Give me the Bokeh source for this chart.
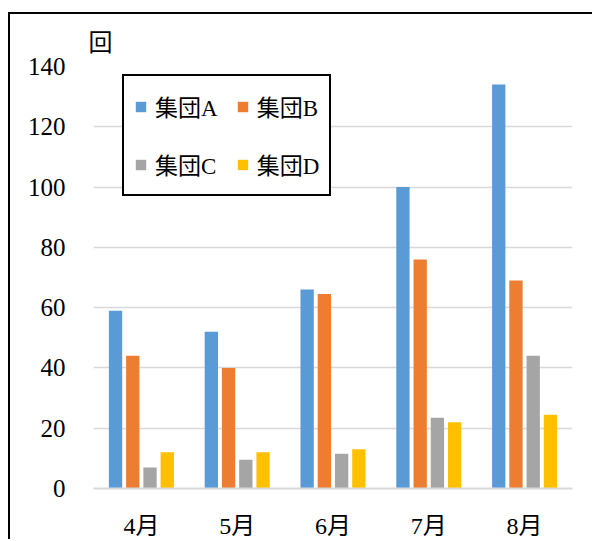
from bokeh.plotting import figure
from bokeh.models import ColumnDataSource, FactorRange, Range1d, FixedTicker, Legend, LegendItem
from bokeh.transform import dodge
from bokeh.embed import file_html
from bokeh.resources import INLINE

months = ["4月", "5月", "6月", "7月", "8月"]
group_a = [59, 52, 66, 100, 134]
group_b = [44, 40, 64.5, 76, 69]
group_c = [7, 9.5, 11.5, 23.5, 44]
group_d = [12, 12, 13, 22, 24.5]
series_names = ["集団A", "集団B", "集団C", "集団D"]
colors = ["#5b9bd5", "#ed7d31", "#a5a5a5", "#ffc000"]
y_ticks = [0, 20, 40, 60, 80, 100, 120, 140]

FONT = "Liberation Serif, Noto Sans CJK JP"

source = ColumnDataSource(data=dict(month=months, A=group_a, B=group_b, C=group_c, D=group_d))

p = figure(
    x_range=FactorRange(*months),
    y_range=Range1d(0, 140),
    width=584, height=527,
    output_backend="svg", toolbar_location=None,
    min_border_left=83, min_border_right=22,
    min_border_top=52, min_border_bottom=30,
)
p.styles = {"border-left": "2px solid #000", "border-top": "2px solid #000",
            "margin-left": "8px", "margin-top": "12px"}

p.outline_line_color = None
p.background_fill_color = "white"
p.border_fill_color = "white"

offsets = [-0.27, -0.09, 0.09, 0.27]
renderers = []
for key, off, col in zip(["A", "B", "C", "D"], offsets, colors):
    r = p.vbar(x=dodge("month", off, range=p.x_range), top=key, width=0.139,
               source=source, fill_color=col, line_color=None)
    renderers.append(r)

# axes
p.xgrid.grid_line_color = None
p.ygrid.grid_line_color = "#d9d9d9"
p.ygrid.grid_line_width = 1.5
p.yaxis.ticker = FixedTicker(ticks=y_ticks)
p.yaxis.axis_line_color = None
p.yaxis.major_tick_line_color = None
p.yaxis.minor_tick_line_color = None
p.yaxis.major_label_standoff = 22
p.yaxis.major_label_text_font = FONT
p.yaxis.major_label_text_font_size = "25px"
p.yaxis.major_label_text_color = "#000"

p.xaxis.axis_line_color = "#d9d9d9"
p.xaxis.axis_line_width = 2
p.xaxis.major_tick_line_color = None
p.xaxis.minor_tick_line_color = None
p.xaxis.major_label_standoff = 18
p.xaxis.major_label_text_font = FONT
p.xaxis.major_label_text_font_size = "24px"
p.xaxis.major_label_text_color = "#000"

# unit label
p.title.text = "回"
p.title.align = "left"
p.title.offset = -5
p.title.text_font = FONT
p.title.text_font_size = "24px"
p.title.text_font_style = "normal"
p.title.text_color = "#000"
p.title.standoff = 21

# legend laid out column by column: A, C | B, D  -> rows read A B / C D
order = [0, 2, 1, 3]
legend = Legend(
    items=[LegendItem(label=series_names[i], renderers=[renderers[i]]) for i in order],
    ncols=2,
    location=(29, 292),
    border_line_color="#000000", border_line_width=2, border_line_alpha=1.0,
    padding=10, spacing=18,
    glyph_width=13, glyph_height=13, label_standoff=8,
    label_height=40,
    label_text_font=FONT, label_text_font_size="23px", label_text_color="#000",
    background_fill_alpha=1.0,
)
p.add_layout(legend)

open("out.html", "w").write(file_html(p, INLINE))
